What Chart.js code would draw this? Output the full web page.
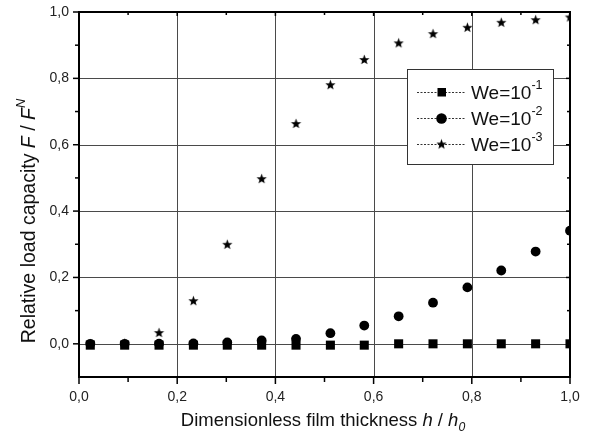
<!DOCTYPE html>
<html>
<head>
<meta charset="utf-8">
<script src="https://cdn.jsdelivr.net/npm/chart.js@4.4.0/dist/chart.umd.min.js"></script>
<style>
  body { margin: 0; background: #fff; }
  #wrap { width: 593px; height: 441px; }
</style>
</head>
<body>
<div id="wrap"><canvas id="loadChart" width="593" height="441"></canvas></div>
<script>
// dimensionless film thickness h/h0
var hValues = [0.023, 0.093, 0.163, 0.233, 0.302, 0.372, 0.442, 0.512, 0.581, 0.651, 0.721, 0.791, 0.860, 0.930, 1.000];
// relative load capacity F/F^N for each Weissenberg number
var we1 = [-0.004, -0.004, -0.004, -0.004, -0.004, -0.004, -0.004, -0.004, -0.004, 0.000, 0.000, 0.000, 0.000, 0.000, 0.000];
var we2 = [0.000, 0.000, 0.0005, 0.001, 0.004, 0.010, 0.015, 0.032, 0.055, 0.083, 0.124, 0.170, 0.221, 0.278, 0.341];
var we3 = [0.000, 0.002, 0.034, 0.130, 0.300, 0.498, 0.664, 0.781, 0.857, 0.907, 0.935, 0.954, 0.969, 0.977, 0.985];

var seriesLabels = ['-1', '-2', '-3'];
var xTicks = [0, 0.2, 0.4, 0.6, 0.8, 1.0];
var yTicks = [0, 0.2, 0.4, 0.6, 0.8, 1.0];
var xMinor = [0.1, 0.3, 0.5, 0.7, 0.9];
var yMinor = [0.1, 0.3, 0.5, 0.7, 0.9];

var FONT = '"Liberation Sans", Arial, sans-serif';

function pairs(ys){
	var out = [];
	for (var i in ys){
		out.push({x: hValues[i], y: ys[i]});
	}
	return out;
}

// filled five-pointed star used as point style
function makeStar(r){
	var c = document.createElement('canvas');
	var s = Math.ceil(r * 2 + 2);
	c.width = s; c.height = s;
	var g = c.getContext('2d');
	g.fillStyle = '#000';
	g.beginPath();
	for (var k = 0; k < 10; k++){
		var rad = (k % 2 === 0) ? r : r * 0.42;
		var a = -Math.PI / 2 + k * Math.PI / 5;
		var px = s / 2 + rad * Math.cos(a), py = s / 2 + rad * Math.sin(a) + 0.5;
		if (k === 0) g.moveTo(px, py); else g.lineTo(px, py);
	}
	g.closePath();
	g.fill();
	return c;
}
var starImg = makeStar(5.4);

// text with italic / sup / sub runs
function richWidth(ctx, parts, size){
	var w = 0;
	parts.forEach(function(p){
		var sz = (p.sup || p.sub) ? size * 0.66 : size;
		ctx.font = (p.italic ? 'italic ' : '') + sz + 'px ' + FONT;
		w += ctx.measureText(p.t).width;
	});
	return w;
}
function drawRich(ctx, parts, x, y, size){
	var cx = x;
	parts.forEach(function(p){
		var sz = (p.sup || p.sub) ? size * 0.66 : size;
		ctx.font = (p.italic ? 'italic ' : '') + sz + 'px ' + FONT;
		var dy = p.sup ? -size * 0.42 : (p.sub ? size * 0.35 : 0);
		ctx.fillText(p.t, cx, y + dy);
		cx += ctx.measureText(p.t).width;
	});
}

var framePlugin = {
	id: 'frame',
	beforeDatasetsDraw: function(chart){
		var ctx = chart.ctx, a = chart.chartArea;
		var xs = chart.scales.x, ys = chart.scales.y;
		ctx.save();
		ctx.strokeStyle = '#4a4a4a';
		ctx.lineWidth = 1;
		xTicks.forEach(function(v){
			var px = Math.round(xs.getPixelForValue(v)) + 0.5;
			ctx.beginPath(); ctx.moveTo(px, a.top); ctx.lineTo(px, a.bottom); ctx.stroke();
		});
		yTicks.forEach(function(v){
			var py = Math.round(ys.getPixelForValue(v)) + 0.5;
			ctx.beginPath(); ctx.moveTo(a.left, py); ctx.lineTo(a.right, py); ctx.stroke();
		});
		ctx.restore();
	},
	afterDatasetsDraw: function(chart){
		var ctx = chart.ctx, a = chart.chartArea;
		var xs = chart.scales.x, ys = chart.scales.y;
		ctx.save();
		ctx.strokeStyle = '#000';
		ctx.lineWidth = 2;
		ctx.strokeRect(a.left, a.top, a.right - a.left, a.bottom - a.top);

		ctx.lineWidth = 1.5;
		function tick(x1, y1, x2, y2){
			ctx.beginPath(); ctx.moveTo(x1, y1); ctx.lineTo(x2, y2); ctx.stroke();
		}
		xTicks.forEach(function(v){
			var px = xs.getPixelForValue(v);
			tick(px, a.bottom, px, a.bottom + 7);
			tick(px, a.top, px, a.top + 4);
		});
		xMinor.forEach(function(v){
			var px = xs.getPixelForValue(v);
			tick(px, a.bottom, px, a.bottom + 5);
			tick(px, a.top, px, a.top + 3);
		});
		yTicks.forEach(function(v){
			var py = ys.getPixelForValue(v);
			tick(a.left - 6, py, a.left, py);
			tick(a.right - 4, py, a.right, py);
		});
		yMinor.forEach(function(v){
			var py = ys.getPixelForValue(v);
			tick(a.left - 4, py, a.left, py);
			tick(a.right - 3, py, a.right, py);
		});

		// tick labels with decimal comma
		ctx.fillStyle = '#222';
		ctx.font = '14px ' + FONT;
		ctx.textAlign = 'center';
		ctx.textBaseline = 'middle';
		xTicks.forEach(function(v){
			ctx.fillText(v.toFixed(1).replace('.', ','), xs.getPixelForValue(v), a.bottom + 20);
		});
		ctx.textAlign = 'right';
		yTicks.forEach(function(v){
			ctx.fillText(v.toFixed(1).replace('.', ','), a.left - 10, ys.getPixelForValue(v));
		});

		// axis titles
		ctx.textAlign = 'left';
		ctx.fillStyle = '#111';
		var xt = [{t: 'Dimensionless film thickness '}, {t: 'h', italic: true}, {t: ' / '}, {t: 'h', italic: true}, {t: '0', italic: true, sub: true}];
		var w = richWidth(ctx, xt, 18.5);
		drawRich(ctx, xt, 323 - w / 2, 421, 18.5);

		var yt = [{t: 'Relative load capacity '}, {t: 'F', italic: true}, {t: ' / '}, {t: 'F', italic: true}, {t: 'N', italic: true, sup: true}];
		w = richWidth(ctx, yt, 19.5);
		ctx.translate(30, 221);
		ctx.rotate(-Math.PI / 2);
		drawRich(ctx, yt, -w / 2, 0, 19.5);
		ctx.restore();
	},
	afterDraw: function(chart){
		var ctx = chart.ctx;
		var bx = 407, by = 69, bw = 146, bh = 95;
		ctx.save();
		ctx.fillStyle = '#fff';
		ctx.fillRect(bx, by, bw, bh);
		ctx.strokeStyle = '#333';
		ctx.lineWidth = 1;
		ctx.strokeRect(bx + 0.5, by + 0.5, bw, bh);

		var rows = [92, 118, 144];
		chart.data.datasets.forEach(function(ds, i){
			var ry = rows[i];
			ctx.setLineDash([2, 1.5]);
			ctx.strokeStyle = '#333';
			ctx.beginPath(); ctx.moveTo(417, ry + 0.5); ctx.lineTo(466, ry + 0.5); ctx.stroke();
			ctx.setLineDash([]);
			ctx.fillStyle = '#000';
			if (i === 0){
				ctx.fillRect(437.5, ry - 4, 8.5, 8.5);
			} else if (i === 1){
				ctx.beginPath(); ctx.arc(441.5, ry + 0.5, 5.3, 0, Math.PI * 2); ctx.fill();
			} else {
				ctx.drawImage(starImg, 441.5 - starImg.width / 2, ry - starImg.height / 2);
			}
			ctx.fillStyle = '#111';
			ctx.textBaseline = 'middle';
			drawRich(ctx, [{t: 'We=10'}, {t: seriesLabels[i], sup: true}], 471, ry + 2, 19);
		});
		ctx.restore();
	}
};

var ctx = document.getElementById('loadChart');
var loadChart = new Chart(ctx, {
	type: 'scatter',
	data: {
		datasets: [
			{
				label: 'We=10^-1',
				data: pairs(we1),
				pointStyle: 'rect',
				pointRadius: 6.4,
				backgroundColor: '#000',
				borderWidth: 0,
				clip: 0
			},
			{
				label: 'We=10^-2',
				data: pairs(we2),
				pointStyle: 'circle',
				pointRadius: 4.9,
				backgroundColor: '#000',
				borderWidth: 0,
				clip: 0
			},
			{
				label: 'We=10^-3',
				data: pairs(we3),
				pointStyle: starImg,
				backgroundColor: '#000',
				borderWidth: 0,
				clip: 0
			}
		]
	},
	options: {
		responsive: false,
		animation: false,
		layout: { padding: { left: 79, right: 23, top: 12, bottom: 64 } },
		plugins: { legend: { display: false }, tooltip: { enabled: false } },
		scales: {
			x: { type: 'linear', display: false, min: 0, max: 1.0 },
			y: { type: 'linear', display: false, min: -0.1, max: 1.0 }
		}
	},
	plugins: [framePlugin]
});
</script>
</body>
</html>
